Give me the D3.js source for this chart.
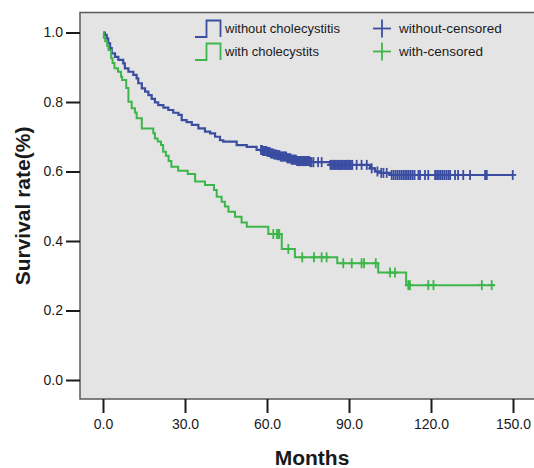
<!DOCTYPE html>
<html>
<head>
<meta charset="utf-8">
<script src="https://cdn.jsdelivr.net/npm/d3@7"></script>
<style>
  html, body { margin: 0; padding: 0; background: #ffffff; }
  svg { display: block; font-family: "Liberation Sans", Arial, Helvetica, sans-serif; }
</style>
</head>
<body>
<svg id="chart" width="534" height="468"></svg>
<script>
// Kaplan-Meier step data: event times (months) and survival after each step
const withoutTimes = [0, 0.7, 1.35, 1.9, 2.6, 3.2, 4.4, 5.6, 7.4, 8.0, 9.3, 11.1, 12.3, 12.9, 14.2, 15.4, 16.6, 17.8, 19.0, 20.2, 22.1, 23.9, 25.7, 27.6, 28.8, 30.6, 32.5, 34.9, 37.3, 39.2, 41.0, 42.8, 44.0, 48.9, 52.6, 56.2, 58.5, 60.0, 61.1, 62.5, 63.5, 65.0, 67.2, 69.0, 70.9, 75.7, 83.0, 97.7, 99.5, 101.5, 105.0, 150.0];
const withoutSurv  = [1.0, 0.993, 0.983, 0.969, 0.955, 0.94, 0.93, 0.921, 0.911, 0.897, 0.887, 0.878, 0.868, 0.854, 0.839, 0.830, 0.820, 0.809, 0.799, 0.791, 0.784, 0.777, 0.769, 0.763, 0.748, 0.742, 0.734, 0.724, 0.715, 0.710, 0.700, 0.690, 0.686, 0.676, 0.671, 0.662, 0.659, 0.656, 0.652, 0.649, 0.647, 0.643, 0.638, 0.634, 0.630, 0.627, 0.619, 0.609, 0.600, 0.596, 0.590, 0.590];

const withTimes = [0, 0.3, 0.8, 1.5, 2.0, 3.0, 3.5, 4.2, 5.5, 6.6, 7.0, 8.5, 9.3, 10.5, 11.7, 12.3, 14.2, 18.4, 19.0, 20.0, 21.2, 22.0, 23.0, 24.0, 25.0, 27.5, 31.0, 33.7, 37.3, 40.6, 41.6, 43.4, 44.6, 45.9, 48.3, 50.7, 52.6, 60.5, 65.4, 70.2, 85.7, 100.7, 110.9, 143.4];
const withSurv  = [1.0, 0.985, 0.975, 0.962, 0.950, 0.926, 0.912, 0.897, 0.887, 0.873, 0.863, 0.840, 0.801, 0.782, 0.770, 0.753, 0.724, 0.710, 0.695, 0.686, 0.676, 0.657, 0.645, 0.630, 0.614, 0.602, 0.593, 0.571, 0.561, 0.547, 0.527, 0.513, 0.499, 0.484, 0.470, 0.453, 0.441, 0.420, 0.377, 0.353, 0.336, 0.309, 0.273, 0.273];

// Censoring times (months)
const withoutCensored = [57.8, 58.2, 58.6, 59.0, 59.4, 59.8, 60.2, 60.6, 61.0, 61.4, 61.8, 62.2, 62.6, 63.0, 63.4, 63.8, 64.2, 64.6, 65.0, 65.4, 65.8, 66.2, 66.6, 67.0, 67.4, 67.8, 68.2, 68.6, 69.0, 69.4, 69.8, 70.2, 70.6, 71.0, 71.4, 71.8, 72.2, 72.6, 73.0, 73.4, 73.8, 74.2, 74.6, 75.0, 75.4, 75.8, 76.3, 77.0, 78.7, 80.0, 83.2, 83.7, 84.2, 84.7, 85.2, 85.7, 86.2, 86.7, 87.2, 87.7, 88.2, 88.7, 89.2, 89.7, 90.2, 90.7, 91.2, 92.8, 94.6, 96.5, 98.3, 100.4, 101.8, 102.6, 103.8, 105.6, 106.3, 107.0, 107.7, 108.4, 109.1, 109.8, 110.5, 111.2, 111.9, 112.6, 113.3, 114.0, 115.4, 116.0, 117.8, 119.0, 121.5, 122.2, 122.9, 123.6, 124.3, 125.0, 125.7, 126.4, 127.0, 128.8, 129.9, 131.8, 134.3, 139.8, 140.4, 149.9];
const withCensored = [62.3, 63.6, 64.1, 64.5, 67.8, 72.9, 77.2, 80.0, 81.8, 87.9, 91.0, 94.6, 95.5, 99.8, 105.0, 106.8, 111.7, 112.3, 119.0, 120.9, 138.6, 142.2];

const xTicks = [0, 30, 60, 90, 120, 150];
const yTicks = [0, 0.2, 0.4, 0.6, 0.8, 1.0];

const legendLines = ["without cholecystitis", "with cholecystits"];
const legendCensor = ["without-censored", "with-censored"];

const BLUE = "#3a4da1";
const GREEN = "#3db54a";

const svg = d3.select("#chart");

const x = d3.scaleLinear().domain([0, 150]).range([103, 513]);
const y = d3.scaleLinear().domain([0, 1]).range([380, 32.5]);

// plot panel
svg.append("rect")
  .attr("x", 80).attr("y", 12.5)
  .attr("width", 470).attr("height", 386.5)
  .attr("fill", "#e4e4e4")
  .attr("stroke", "#5a5a5a")
  .attr("stroke-width", 1.5);

// axes
const yAxis = d3.axisLeft(y).tickValues(yTicks).tickFormat(d3.format(".1f")).tickSize(14).tickPadding(3);
const gy = svg.append("g").attr("transform", "translate(80,0)").call(yAxis);
gy.select(".domain").remove();
gy.selectAll(".tick line").attr("stroke", "#1a1a1a").attr("stroke-width", 2);
gy.selectAll(".tick text").attr("font-size", 14).attr("fill", "#1a1a1a");

const xAxis = d3.axisBottom(x).tickValues(xTicks).tickFormat(d3.format(".1f")).tickSize(14).tickPadding(6);
const gx = svg.append("g").attr("transform", "translate(0,399)").call(xAxis);
gx.select(".domain").remove();
gx.selectAll(".tick line").attr("stroke", "#1a1a1a").attr("stroke-width", 2);
gx.selectAll(".tick text").attr("font-size", 14).attr("fill", "#1a1a1a");

// axis titles
svg.append("text")
  .attr("x", 312).attr("y", 465)
  .attr("text-anchor", "middle")
  .attr("font-size", 21).attr("font-weight", "bold").attr("fill", "#1a1a1a")
  .text("Months");

svg.append("text")
  .attr("transform", "translate(30,206) rotate(-90)")
  .attr("text-anchor", "middle")
  .attr("font-size", 21).attr("font-weight", "bold").attr("fill", "#1a1a1a")
  .text("Survival rate(%)");

// survival curves
const line = d3.line().curve(d3.curveStepAfter).x(d => x(d[0])).y(d => y(d[1]));

function stepValue(times, surv, t) {
  let v = surv[0];
  for (let i = 0; i < times.length; i++) { if (times[i] <= t) v = surv[i]; }
  return v;
}

const series = [
  { times: withoutTimes, surv: withoutSurv, cens: withoutCensored, color: BLUE, w: 2.2 },
  { times: withTimes, surv: withSurv, cens: withCensored, color: GREEN, w: 2 }
];

series.forEach(s => {
  const pts = s.times.map((t, i) => [t, s.surv[i]]);
  svg.append("path")
    .attr("d", line(pts))
    .attr("fill", "none")
    .attr("stroke", s.color)
    .attr("stroke-width", s.w);

  const g = svg.append("g").attr("stroke", s.color).attr("stroke-width", 1.8);
  s.cens.forEach(t => {
    const cx = x(t), cy = y(stepValue(s.times, s.surv, t));
    g.append("line").attr("x1", cx).attr("x2", cx).attr("y1", cy - 5).attr("y2", cy + 5);
    g.append("line").attr("x1", cx - 3.5).attr("x2", cx + 3.5).attr("y1", cy).attr("y2", cy);
  });
});

// legend
const legend = svg.append("g");
[BLUE, GREEN].forEach((c, i) => {
  const oy = i * 23;
  legend.append("path")
    .attr("d", `M195,${37 + oy}H206.5V${20.5 + oy}H220.5V${37 + oy}`)
    .attr("fill", "none").attr("stroke", c).attr("stroke-width", 1.8);
  legend.append("text")
    .attr("x", 225).attr("y", 33 + oy)
    .attr("font-size", 13).attr("fill", "#1a1a1a")
    .text(legendLines[i]);
  legend.append("line").attr("x1", 382).attr("x2", 382).attr("y1", 19.5 + oy).attr("y2", 37.5 + oy)
    .attr("stroke", c).attr("stroke-width", 1.8);
  legend.append("line").attr("x1", 373).attr("x2", 391).attr("y1", 28.5 + oy).attr("y2", 28.5 + oy)
    .attr("stroke", c).attr("stroke-width", 1.8);
  legend.append("text")
    .attr("x", 399).attr("y", 33 + oy)
    .attr("font-size", 13.5).attr("fill", "#1a1a1a")
    .text(legendCensor[i]);
});
</script>
</body>
</html>
